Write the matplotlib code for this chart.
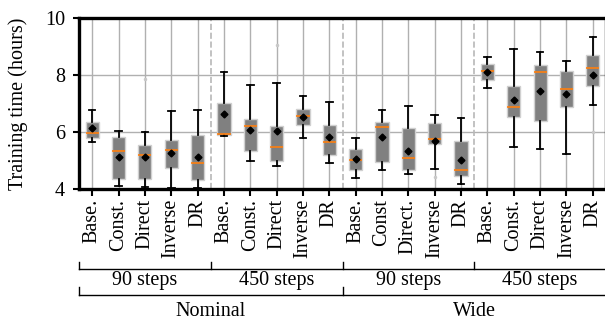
import matplotlib
matplotlib.use("Agg")
import matplotlib.pyplot as plt
import matplotlib.transforms as mtransforms

plt.rcParams['font.family'] = ['Liberation Serif', 'DejaVu Serif']

# per-box summary stats (hours)
methods = ["Base.", "Const.", "Direct", "Inverse", "DR",
           "Base.", "Const.", "Direct", "Inverse", "DR",
           "Base.", "Const", "Direct.", "Inverse", "DR",
           "Base.", "Const.", "Direct", "Inverse", "DR"]
steps = ["90 steps", "450 steps", "90 steps", "450 steps"]
ranges = ["Nominal", "Wide"]

whislo = [5.64, 4.10, 4.06, 4.05, 4.05, 5.86, 4.98, 4.81, 5.80, 4.91,
          4.37, 4.68, 4.51, 4.71, 4.16, 7.56, 5.49, 5.42, 5.24, 6.94]
q1 = [5.79, 4.35, 4.34, 4.73, 4.30, 5.88, 5.35, 5.00, 6.25, 5.18,
      4.68, 4.94, 4.67, 5.57, 4.47, 7.82, 6.54, 6.37, 6.87, 7.61]
med = [5.95, 5.32, 5.20, 5.36, 4.90, 5.92, 6.20, 5.47, 6.56, 5.64,
       5.02, 6.16, 5.08, 5.74, 4.65, 8.13, 6.88, 8.09, 7.50, 8.23]
q3 = [6.36, 5.84, 5.54, 5.72, 5.91, 7.03, 6.46, 6.20, 6.80, 6.23,
      5.42, 6.34, 6.13, 6.32, 5.68, 8.39, 7.60, 8.35, 8.14, 8.71]
whishi = [6.76, 6.05, 6.01, 6.74, 6.77, 8.11, 7.66, 7.72, 7.26, 7.06,
          5.80, 6.77, 6.90, 6.61, 6.50, 8.62, 8.91, 8.81, 8.49, 9.33]
means = [6.13, 5.11, 5.13, 5.25, 5.11, 6.63, 6.07, 6.04, 6.51, 5.82,
         5.06, 5.84, 5.35, 5.70, 5.03, 8.11, 7.11, 7.43, 7.32, 8.01]
fliers = [[], [], [7.86], [], [], [], [], [9.06], [], [],
          [], [], [], [4.42], [], [], [], [], [], [6.00]]

stats = []
for i in range(len(methods)):
    stats.append(dict(whislo=whislo[i], q1=q1[i], med=med[i], q3=q3[i],
                      whishi=whishi[i], mean=means[i], fliers=fliers[i]))

fs = 14.5
fig = plt.figure(figsize=(6.05, 3.22), dpi=100)
ax = fig.add_axes([79 / 605, 1 - 189 / 322, 527 / 605, 171 / 322])

pos = list(range(len(methods)))
ax.bxp(stats, positions=pos, widths=0.5, patch_artist=True, showmeans=True,
       boxprops=dict(facecolor="#808080", edgecolor="#d0d0d0", linewidth=1),
       medianprops=dict(color="#ff7f0e", linewidth=1.2),
       whiskerprops=dict(color="black", linewidth=1.3),
       capprops=dict(color="black", linewidth=1.3),
       meanprops=dict(marker="D", markerfacecolor="black",
                      markeredgecolor="black", markersize=3.5),
       flierprops=dict(marker="o", markerfacecolor="#c8c8c8",
                       markeredgecolor="none", markersize=2.5))

for xs in [4.5, 9.5, 14.5]:
    ax.axvline(xs, color="#b8b8b8", linestyle="--", linewidth=1.2, zorder=1)

ax.set_xlim(-0.5, 19.5)
ax.set_ylim(4, 10)
ax.set_yticks([4, 6, 8, 10])
ax.set_xticks(pos)
ax.set_xticklabels(methods, rotation=90, fontsize=fs)
ax.tick_params(axis="y", labelsize=fs, width=1.5, length=4, pad=6)
ax.tick_params(axis="x", width=1.5, length=5, pad=2)
ax.grid(True, color="#b0b0b0", linewidth=1)
ax.set_axisbelow(True)
for s in ax.spines.values():
    s.set_linewidth(2.4)
ax.set_ylabel("Training time (hours)", fontsize=fs, labelpad=12)

# grouping brackets below the tick labels
tr = mtransforms.blended_transform_factory(ax.transData, fig.transFigure)
y1, y1t = 1 - 269 / 322, 1 - 262 / 322
y2, y2t = 1 - 295 / 322, 1 - 287 / 322
ax.plot([-0.5, 19.5], [y1, y1], color="black", lw=1, transform=tr, clip_on=False)
for b in [-0.5, 4.5, 9.5, 14.5, 19.5]:
    ax.plot([b, b], [y1, y1t], color="black", lw=1, transform=tr, clip_on=False)
for k, lab in enumerate(steps):
    ax.text(2 + 5 * k, 1 - 281 / 322, lab, transform=tr, ha="center",
            va="center", fontsize=fs)
ax.plot([-0.5, 19.5], [y2, y2], color="black", lw=1, transform=tr, clip_on=False)
for b in [-0.5, 9.5, 19.5]:
    ax.plot([b, b], [y2, y2t], color="black", lw=1, transform=tr, clip_on=False)
for k, lab in enumerate(ranges):
    ax.text(4.5 + 10 * k, 1 - 312 / 322, lab, transform=tr, ha="center",
            va="center", fontsize=fs)

fig.savefig("out.png", dpi=100)
